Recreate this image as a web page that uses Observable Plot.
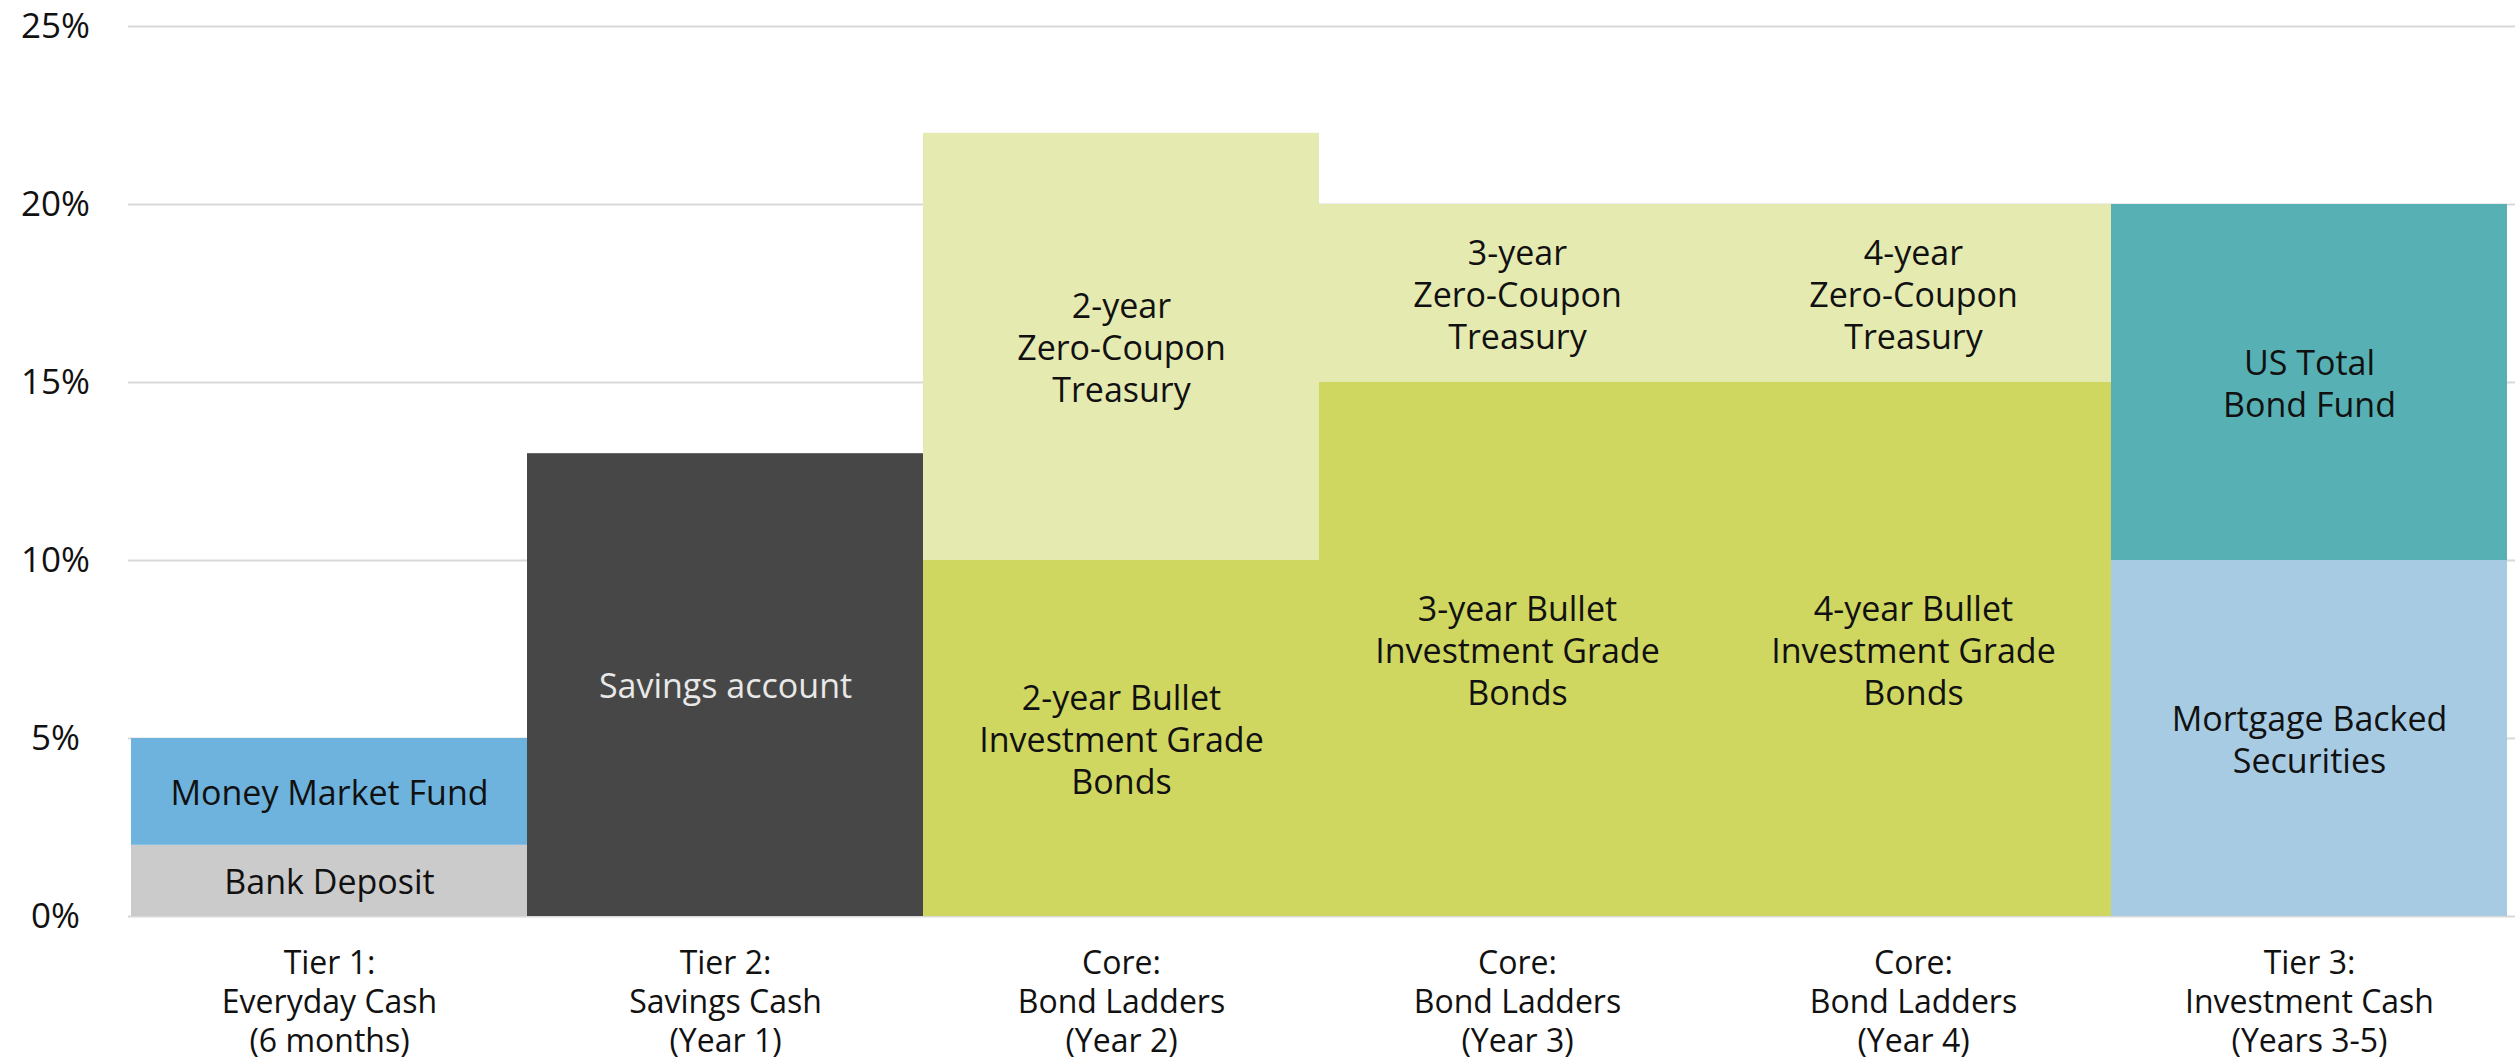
<!DOCTYPE html>
<html>
<head>
<meta charset="utf-8">
<script src="https://cdn.jsdelivr.net/npm/d3@7"></script>
<script src="https://cdn.jsdelivr.net/npm/@observablehq/plot@0.6"></script>
<style>
  html, body { margin: 0; padding: 0; background: #fff; }
  #chart svg { display: block; }
</style>
</head>
<body>
<div id="chart"></div>
<script>
// ---- data ----
const tiers = [
  "Tier 1:\nEveryday Cash\n(6 months)",
  "Tier 2:\nSavings Cash\n(Year 1)",
  "Core:\nBond Ladders\n(Year 2)",
  "Core:\nBond Ladders\n(Year 3)",
  "Core:\nBond Ladders\n(Year 4)",
  "Tier 3:\nInvestment Cash\n(Years 3-5)"
];
const segTier = [0, 0, 1, 2, 2, 3, 3, 4, 4, 5, 5];
const segKind = [
  "Bank Deposit", "Money Market Fund", "Savings account",
  "Bullet", "Zero-Coupon", "Bullet", "Zero-Coupon", "Bullet", "Zero-Coupon",
  "Mortgage Backed Securities", "US Total Bond Fund"
];
const segLabel = [
  "Bank Deposit", "Money Market Fund", "Savings account",
  "2-year Bullet\nInvestment Grade\nBonds", "2-year\nZero-Coupon\nTreasury",
  "3-year Bullet\nInvestment Grade\nBonds", "3-year\nZero-Coupon\nTreasury",
  "4-year Bullet\nInvestment Grade\nBonds", "4-year\nZero-Coupon\nTreasury",
  "Mortgage Backed\nSecurities", "US Total\nBond Fund"
];
const segValue = [2, 3, 13, 10, 12, 15, 5, 15, 5, 10, 10];
const yTicks = [0, 5, 10, 15, 20, 25];

const kinds = ["Bank Deposit", "Money Market Fund", "Savings account", "Bullet", "Zero-Coupon", "Mortgage Backed Securities", "US Total Bond Fund"];
const kindColors = ["#cbcbcb", "#6db3dd", "#474747", "#cfd761", "#e5ebb0", "#a6cbe3", "#56b0b4"];

const rows = segValue.map((v, i) => ({
  tier: tiers[segTier[i]], kind: segKind[i], label: segLabel[i], value: v
}));

const chart = Plot.plot({
  width: 2515,
  height: 1063,
  marginLeft: 128,
  marginRight: 0,
  marginTop: 26,
  marginBottom: 147,
  style: { fontFamily: "'Open Sans', sans-serif", background: "#fff" },
  x: { domain: tiers, range: [128, 2509], padding: 0, label: null },
  y: { domain: [0, 25], label: null },
  color: { domain: kinds, range: kindColors },
  marks: [
    Plot.ruleY(yTicks, { stroke: "#d9d9d9", strokeWidth: 2 }),
    Plot.barY(rows, { x: "tier", y: "value", fill: "kind", insetLeft: 0, insetRight: 0 }),
    Plot.text(rows, Plot.stackY({
      x: "tier", y: "value", text: "label",
      fill: d => d.kind === "Savings account" ? "#e8e8e8" : "#111",
      fontSize: 34, lineHeight: 1.23
    })),
    Plot.axisY({
      ticks: yTicks, tickFormat: d => d + "%", tickSize: 0, tickPadding: 73,
      anchor: "left", textAnchor: "middle", label: null,
      fontSize: 35, fill: "#111"
    }),
    Plot.axisX({
      tickSize: 0, tickPadding: 30, fontSize: 32, lineHeight: 1.22, fill: "#111", label: null
    })
  ]
});
document.getElementById("chart").appendChild(chart);
</script>
</body>
</html>
